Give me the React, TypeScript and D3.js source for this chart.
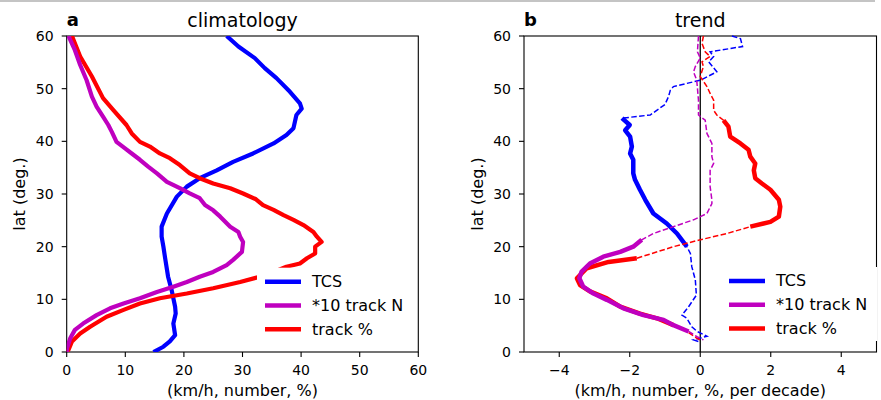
import React from 'react';
import * as d3 from 'd3';

// left panel: climatology, [lat, value]
const climTcs: [number, number][] = [
  [60, 27.3], [58, 29.3], [55.8, 32.1], [53.9, 33.8], [52, 35.8], [49.4, 38.1], [47.2, 39.8],
  [46.2, 40.1], [45, 39.2], [42.5, 38.7], [41.2, 37.5], [39.6, 35.3], [37.7, 31.8], [36.1, 28.4],
  [34.5, 25.6], [33, 22.7], [31.4, 20.5], [29.5, 18.8], [26.3, 17.1], [23.8, 16.2], [21.9, 16.2],
  [20, 16.5], [17.8, 16.8], [14.3, 17.3], [11.8, 17.9], [8.6, 18.5], [7.3, 18.6], [5.4, 18.2],
  [3.2, 18.5], [2, 17.6], [1, 16.5], [0, 14.8],
];
const climTrackN: [number, number][] = [
  [60, 0.3], [57.3, 1.4], [54.5, 2.3], [51.6, 3.4], [48.5, 4.3], [46.6, 5.1], [44.7, 6.2],
  [43.1, 7.1], [41.8, 7.7], [39.9, 8.5], [38.7, 9.9], [37.7, 11.1], [36.5, 12.5], [35.2, 13.9],
  [33.9, 15.4], [32.3, 17.1], [31.1, 19.3], [30.1, 21.0], [29.2, 22.7], [27.9, 23.6], [26.9, 25],
  [25.7, 26.2], [23.8, 27.9], [22.8, 29.3], [21.9, 29.6], [20.9, 30.1], [19, 29.9], [17.5, 28.4],
  [16.5, 27.3], [15.2, 25], [14.3, 22.7], [13.3, 20.5], [12.4, 18.2], [11.4, 15.4], [10.2, 12.5],
  [9.2, 9.7], [8.3, 7.4], [7, 5.1], [5.4, 2.8], [4.2, 1.4], [2.6, 0.6], [0.7, 0.05], [0, 0],
];
const climTrackPct: [number, number][] = [
  [60, 0.9], [56.1, 2.3], [52.3, 4.3], [48.2, 6.2], [45.9, 8.0], [43.1, 10.2], [41.5, 11.1],
  [39.9, 12.5], [39, 14.2], [37.7, 15.9], [36.8, 17.6], [35.5, 19.3], [33.9, 21], [33, 22.7],
  [32, 25], [31.1, 27.9], [30.1, 30.1], [29, 32.3], [27.9, 33.5], [27, 35.3], [26, 37], [25.1, 38.7],
  [24.1, 40.4], [22.8, 42.1], [21.9, 42.7], [20.9, 43.5], [20, 42.4], [18.7, 42.4], [17.8, 41],
  [16.8, 39.8], [16.2, 37.5], [15.2, 35.3], [14.3, 33], [13.3, 29.6], [12.1, 25], [11.1, 20.5],
  [10.2, 15.9], [9.2, 12.5], [8, 9.7], [6.7, 6.8], [4.8, 4.0], [3.5, 2.3], [2, 0.9], [0.4, 0.3], [0, 0],
];

// right panel: trend per decade, [lat, value, significant]
const trendTcs: [number, number, number][] = [
  [60, 0.9, 0], [59.5, 1.14, 0], [58, 1.2, 0], [57, 0.28, 0], [56.1, 0.38, 0], [55.1, 0.24, 0],
  [53.2, 0.47, 0], [51.6, 0, 0], [50.4, -0.76, 0], [49.7, -0.85, 0], [48.5, -0.9, 0], [47, -1.0, 0],
  [45, -1.42, 0], [44.4, -2.22, 1], [43.1, -2.0, 1], [42.1, -2.13, 1], [40.9, -1.99, 1], [39, -1.94, 1],
  [37.7, -1.99, 1], [36.5, -1.9, 1], [33.9, -1.9, 1], [32.7, -1.85, 1], [30.8, -1.71, 1],
  [28.9, -1.56, 1], [26.3, -1.33, 1], [24.4, -0.95, 1], [22.5, -0.66, 1], [20, -0.38, 1],
  [18.7, -0.28, 0], [16.2, -0.24, 0], [13.7, -0.14, 0], [10.8, -0.11, 0], [8.6, -0.33, 0],
  [7, -0.52, 0], [6.4, -0.38, 0], [4.8, -0.24, 0], [3.9, -0.09, 0], [3, 0.19, 0], [2.3, -0.19, 0],
  [2, -0.05, 0],
];
const trendTrackN: [number, number, number][] = [
  [60, -0.05, 0], [57, -0.08, 0], [55.8, 0, 0], [54.2, -0.14, 0], [53.2, -0.19, 0], [51.6, -0.1, 0],
  [47.8, -0.05, 0], [45, -0.05, 0], [44, 0.14, 0], [41.5, 0.19, 0], [39.6, 0.33, 0], [37.1, 0.33, 0],
  [35.8, 0.38, 0], [34.5, 0.28, 0], [31.4, 0.28, 0], [28.9, 0.33, 0], [28.2, 0.33, 0], [26.3, 0.19, 0],
  [25.1, -0.19, 0], [23.8, -0.76, 0], [22.5, -1.33, 0], [21.3, -1.66, 1], [20, -1.9, 1],
  [19, -2.27, 1], [18.1, -2.75, 1], [16.8, -3.13, 1], [15.2, -3.37, 1], [14, -3.43, 1],
  [12.4, -3.32, 1], [11.1, -3.03, 1], [9.9, -2.65, 1], [8.3, -2.18, 1], [7, -1.61, 1],
  [6.1, -1.04, 1], [5.1, -0.76, 1], [3.9, -0.33, 1], [2.9, -0.09, 0], [2.3, 0.09, 0],
];
const trendTrackPct: [number, number, number][] = [
  [60, 0.09, 0], [58.6, 0.05, 0], [57, 0.14, 0], [56.1, 0.28, 0], [55.1, 0.05, 0], [54.2, 0.09, 0],
  [52.3, 0, 0], [50.4, 0.19, 0], [49.1, 0.28, 0], [47.8, 0.38, 0], [45.9, 0.38, 0], [45, 0.47, 0],
  [44, 0.66, 1], [42.8, 0.8, 1], [40.9, 0.85, 1], [39.6, 1.14, 1], [38.4, 1.37, 1], [37.1, 1.42, 1],
  [35.8, 1.56, 1], [34.5, 1.52, 1], [33, 1.56, 1], [32, 1.75, 1], [30.8, 1.99, 1], [28.9, 2.23, 1],
  [27.6, 2.27, 1], [25.7, 2.23, 1], [24.7, 1.99, 1], [23.8, 1.42, 1], [22.5, 0.76, 0], [21.3, 0, 0],
  [20, -0.76, 0], [17.8, -1.8, 1], [17.1, -2.6, 1], [15.9, -3.22, 1], [14, -3.5, 1], [12.7, -3.41, 1],
  [11.5, -3.13, 1], [10.2, -2.65, 1], [8.6, -2.27, 1], [7.3, -1.71, 1], [6.4, -1.23, 1],
  [5.1, -0.76, 1], [3.9, -0.38, 0], [2.6, -0.09, 0], [2.3, 0, 0],
];

const seriesNames = ['TCS', '*10 track N', 'track %'];
const seriesColors = ['#0000ff', '#bf00bf', '#ff0000'];
const latTicks = [0, 10, 20, 30, 40, 50, 60];
const climTicks = [0, 10, 20, 30, 40, 50, 60];
const trendTicks = [-4, -2, 0, 2, 4];

const FONT = 'DejaVu Sans, sans-serif';
const top = 36;
const bottom = 352;

const yScale = d3.scaleLinear().domain([0, 60]).range([bottom, top]);
const xClim = d3.scaleLinear().domain([0, 60]).range([66.7, 418.3]);
const xTrend = d3.scaleLinear().domain([-5, 5]).range([524, 876.5]);

const fmt = (v: number) => (v < 0 ? '\u2212' + Math.abs(v) : String(v));

// consecutive significant points become thick solid segments
function sigRuns(pts: [number, number, number][]) {
  const runs: [number, number, number][][] = [];
  let cur: [number, number, number][] = [];
  pts.forEach((p) => {
    if (p[2]) cur.push(p);
    else if (cur.length) { runs.push(cur); cur = []; }
  });
  if (cur.length) runs.push(cur);
  return runs;
}

function Axes({ x, ticks, title, letter, xlabel }: any) {
  const [x0, x1] = x.range();
  return (
    <g fontFamily={FONT} fill="#000">
      <rect x={x0} y={top} width={x1 - x0} height={bottom - top} fill="none" stroke="#000" strokeWidth={1.1} />
      {ticks.map((t: number) => (
        <g key={'x' + t}>
          <line x1={x(t)} x2={x(t)} y1={bottom} y2={bottom + 5} stroke="#000" strokeWidth={1.1} />
          <text x={x(t)} y={375} fontSize={14} textAnchor="middle">{fmt(t)}</text>
        </g>
      ))}
      {latTicks.map((t) => (
        <g key={'y' + t}>
          <line x1={x0 - 5} x2={x0} y1={yScale(t)} y2={yScale(t)} stroke="#000" strokeWidth={1.1} />
          <text x={x0 - 13} y={yScale(t) + 5} fontSize={14} textAnchor="end">{t}</text>
        </g>
      ))}
      <text x={(x0 + x1) / 2} y={26.5} fontSize={19} textAnchor="middle">{title}</text>
      <text x={x0} y={25.7} fontSize={18} fontWeight="bold">{letter}</text>
      <text x={(x0 + x1) / 2} y={396} fontSize={16} textAnchor="middle">{xlabel}</text>
      <text transform={`translate(${x0 - 41.5},${(top + bottom) / 2}) rotate(-90)`} fontSize={16} textAnchor="middle">lat (deg.)</text>
    </g>
  );
}

function Legend({ x, y }: { x: number; y: number }) {
  return (
    <g fontFamily={FONT}>
      <rect x={x - 8} y={y - 14} width={156} height={74} fill="#fff" />
      {seriesNames.map((n, i) => (
        <g key={n}>
          <line x1={x} x2={x + 36} y1={y + i * 23.8} y2={y + i * 23.8} stroke={seriesColors[i]} strokeWidth={4.5} />
          <text x={x + 47} y={y + i * 23.8 + 5.2} fontSize={16}>{n}</text>
        </g>
      ))}
    </g>
  );
}

export default function App() {
  const climLine = d3.line<[number, number]>().x((d) => xClim(d[1])).y((d) => yScale(d[0]));
  const trendLine = d3.line<[number, number, number]>().x((d) => xTrend(d[1])).y((d) => yScale(d[0]));

  const clim = [climTcs, climTrackPct, climTrackN];
  const climColor = [seriesColors[0], seriesColors[2], seriesColors[1]];
  const trend = [trendTcs, trendTrackPct, trendTrackN];

  return (
    <svg width={881} height={400} style={{ position: 'absolute', left: 0, top: 0, background: '#fff' }}>
      <rect x={0} y={0} width={881} height={400} fill="#fff" />
      <rect x={0} y={0} width={875} height={2} fill="#c4c4c4" />

      <Axes x={xClim} ticks={climTicks} title="climatology" letter="a" xlabel="(km/h, number, %)" />
      <g clipPath="url(#clipA)">
        {clim.map((s, i) => (
          <path key={i} d={climLine(s) || ''} fill="none" stroke={climColor[i]} strokeWidth={4.2} strokeLinejoin="round" />
        ))}
      </g>
      <Legend x={265} y={281.7} />

      <Axes x={xTrend} ticks={trendTicks} title="trend" letter="b" xlabel="(km/h, number, %, per decade)" />
      <line x1={xTrend(0)} x2={xTrend(0)} y1={top} y2={bottom} stroke="#000" strokeWidth={1.3} />
      {trend.map((s, i) => (
        <g key={i}>
          <path d={trendLine(s) || ''} fill="none" stroke={climColor[i]} strokeWidth={1.5} strokeDasharray="5.5,2.4" />
          {sigRuns(s).map((r, j) => (
            <path key={j} d={trendLine(r) || ''} fill="none" stroke={climColor[i]} strokeWidth={4.5} strokeLinejoin="round" />
          ))}
        </g>
      ))}
      <Legend x={729} y={281} />
      <defs>
        <clipPath id="clipA">
          <rect x={66.7} y={top} width={351.6} height={bottom - top} />
        </clipPath>
      </defs>
    </svg>
  );
}
